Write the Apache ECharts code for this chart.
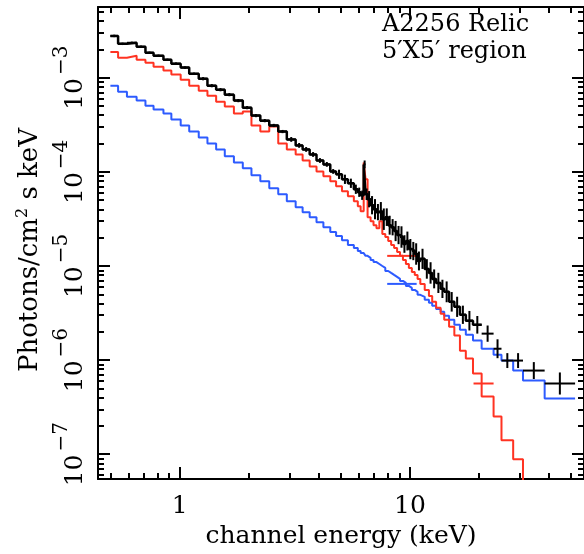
<!DOCTYPE html>
<html><head><meta charset="utf-8">
<script src="https://cdn.jsdelivr.net/npm/echarts@6/dist/echarts.min.js"></script>
<style>html,body{margin:0;padding:0;background:#fff}#c{width:584px;height:554px}</style>
</head><body><div id="c"></div>
<script>
// channel energy bin edges (keV)
const binEdges = [0.50, 0.54, 0.59, 0.65, 0.71, 0.77, 0.85, 0.92, 1.01, 1.10, 1.21, 1.32, 1.44, 1.57, 1.72, 1.88, 2.05, 2.24, 2.45, 2.68, 2.92, 3.19, 3.42, 3.67, 3.93, 4.21, 4.51, 4.78, 5.07, 5.38, 5.71, 5.94, 6.11, 6.30, 6.42, 6.55, 6.75, 6.95, 7.16, 7.37, 7.59, 7.82, 8.05, 8.29, 8.54, 8.80, 9.06, 9.33, 9.61, 9.90, 10.2, 10.5, 10.8, 11.1, 11.6, 12.1, 12.5, 13.0, 13.6, 14.1, 14.8, 15.6, 16.5, 17.5, 18.8, 20.5, 23.1, 25.0, 28.1, 31.0, 38.5, 52.2];
// observed spectrum (photons/cm^2/s/keV)
const dataFlux = [2.78e-3, 2.29e-3, 2.35e-3, 2.13e-3, 1.84e-3, 1.71e-3, 1.55e-3, 1.41e-3, 1.28e-3, 1.10e-3,
  9.76e-4, 8.23e-4, 7.46e-4, 6.61e-4, 5.71e-4, 4.81e-4, 3.96e-4, 3.50e-4, 3.11e-4, 2.68e-4,
  2.21e-4, 1.91e-4, 1.73e-4, 1.53e-4, 1.32e-4, 1.20e-4, 1.01e-4, 9.41e-5, 8.33e-5, 7.56e-5,
  6.53e-5, 6.07e-5, 5.64e-5, 1.20e-4, 5.78e-5, 5.12e-5, 4.42e-5, 4.01e-5, 3.73e-5, 3.82e-5,
  3.14e-5, 3.30e-5, 2.71e-5, 2.58e-5, 2.35e-5, 2.13e-5, 2.03e-5, 1.71e-5, 1.84e-5, 1.51e-5,
  1.44e-5, 1.34e-5, 1.13e-5, 1.19e-5, 9.30e-6, 8.43e-6, 7.29e-6, 6.61e-6, 5.71e-6, 5.31e-6,
  4.16e-6, 3.68e-6, 3.03e-6, 2.62e-6, 2.37e-6, 1.91e-6, 1.32e-6, 9.88e-7, 9.88e-7, 7.74e-7,
  5.64e-7];
// relative 1-sigma errors of the observed spectrum
const dataRelErr = [0.03, 0.03, 0.03, 0.03, 0.03, 0.03, 0.03, 0.03, 0.03, 0.03,
  0.04, 0.04, 0.04, 0.04, 0.04, 0.04, 0.04, 0.04, 0.04, 0.04,
  0.06, 0.06, 0.06, 0.06, 0.06, 0.06, 0.06, 0.12, 0.12, 0.12,
  0.12, 0.12, 0.12, 0.10, 0.15, 0.22, 0.25, 0.28, 0.22, 0.25,
  0.30, 0.24, 0.26, 0.22, 0.28, 0.25, 0.30, 0.24, 0.26, 0.28,
  0.25, 0.30, 0.26, 0.28, 0.27, 0.30, 0.26, 0.28, 0.25, 0.29,
  0.27, 0.28, 0.25, 0.27, 0.24, 0.22, 0.26, 0.20, 0.20, 0.23,
  0.31];
// thermal model (red)
const redModel = [1.88e-3, 1.63e-3, 1.71e-3, 1.55e-3, 1.44e-3, 1.31e-3, 1.19e-3, 1.08e-3, 9.53e-4, 8.23e-4,
  7.29e-4, 6.45e-4, 5.57e-4, 4.93e-4, 4.16e-4, 4.37e-4, 3.11e-4, 2.68e-4, 3.04e-4, 2.00e-4,
  1.73e-4, 1.53e-4, 1.32e-4, 1.14e-4, 1.01e-4, 8.96e-5, 7.93e-5, 7.02e-5, 6.22e-5, 5.50e-5,
  4.87e-5, 4.31e-5, 3.82e-5, 1.26e-4, 8.33e-5, 3.30e-5, 2.99e-5, 2.71e-5, 2.52e-5, 2.99e-5,
  2.18e-5, 2.03e-5, 1.84e-5, 1.67e-5, 1.55e-5, 1.41e-5, 1.28e-5, 1.16e-5, 1.05e-5, 9.53e-6,
  8.64e-6, 8.03e-6, 7.29e-6, 6.45e-6, 5.57e-6, 4.81e-6, 4.16e-6, 3.59e-6, 3.11e-6, 2.68e-6,
  2.26e-6, 1.82e-6, 1.26e-6, 1.04e-6, 7.20e-7, 4.11e-7, 2.52e-7, 1.41e-7, 8.85e-8, 2.1e-8,
  7.9e-9];
// power-law model (blue)
const blueModel = [8.23e-4, 7.11e-4, 6.29e-4, 5.71e-4, 5.05e-4, 4.59e-4, 4.16e-4, 3.59e-4, 3.11e-4, 2.68e-4,
  2.32e-4, 2.00e-4, 1.73e-4, 1.46e-4, 1.26e-4, 1.09e-4, 9.18e-5, 7.93e-5, 6.69e-5, 5.78e-5,
  4.87e-5, 4.21e-5, 3.73e-5, 3.30e-5, 2.92e-5, 2.58e-5, 2.29e-5, 2.08e-5, 1.88e-5, 1.67e-5,
  1.55e-5, 1.44e-5, 1.37e-5, 1.31e-5, 1.28e-5, 1.22e-5, 1.16e-5, 1.10e-5, 1.05e-5, 1.00e-5,
  9.53e-6, 8.85e-6, 8.43e-6, 8.03e-6, 7.65e-6, 7.29e-6, 6.94e-6, 6.61e-6, 6.14e-6, 5.85e-6,
  5.57e-6, 5.31e-6, 4.93e-6, 4.70e-6, 4.37e-6, 4.06e-6, 3.77e-6, 3.50e-6, 3.26e-6, 2.96e-6,
  2.68e-6, 2.37e-6, 2.10e-6, 1.86e-6, 1.61e-6, 1.32e-6, 1.14e-6, 9.88e-7, 7.74e-7, 6.07e-7,
  3.91e-7];
// wide-bin model segments
const redWideLo = [7.97, 18.9];
const redWideHi = [10.7, 23.1];
const redWideVal = [1.28e-5, 5.64e-7];
const blueWideLo = [7.97];
const blueWideHi = [10.7];
const blueWideVal = [6.45e-6];
// last bin index drawn as a connected histogram
const histEnd = 65;

// axes
const xMajorTicks = [1, 10];
const xTickLabels = ['1', '10'];
const xMinorTicks = [0.5, 0.6, 0.7, 0.8, 0.9, 2, 3, 4, 5, 6, 7, 8, 9, 20, 30, 40, 50];
const yMajorTicks = [1e-7, 1e-6, 1e-5, 1e-4, 1e-3];
const yTickExponents = ['\u22127', '\u22126', '\u22125', '\u22124', '\u22123'];
const yMinorTicks = [6e-8, 7e-8, 8e-8, 9e-8,
  2e-7, 3e-7, 4e-7, 5e-7, 6e-7, 7e-7, 8e-7, 9e-7,
  2e-6, 3e-6, 4e-6, 5e-6, 6e-6, 7e-6, 8e-6, 9e-6,
  2e-5, 3e-5, 4e-5, 5e-5, 6e-5, 7e-5, 8e-5, 9e-5,
  2e-4, 3e-4, 4e-4, 5e-4, 6e-4, 7e-4, 8e-4, 9e-4,
  2e-3, 3e-3, 4e-3, 5e-3];
const xRange = [0.4417, 57.07];
const yRange = [5.44e-8, 5.64e-3];
const xTitle = 'channel energy (keV)';
const yTitleParts = ['Photons/cm', '2', ' s keV'];
const titleLines = ['A2256 Relic', '5\u2032X5\u2032 region'];

const FONT = '"DejaVu Serif"';
const RED = '#ff3322', BLUE = '#2d5bff', BLACK = '#000';

function histPoints(vals, n) {
  const pts = [];
  for (let i = 0; i < n; i++) pts.push([binEdges[i], vals[i]]);
  pts.push([binEdges[n], vals[n - 1]]);
  return pts;
}
function nearestIdx(arr, v) {
  let best = 0;
  for (let i = 1; i < arr.length; i++) if (Math.abs(Math.log(arr[i] / v)) < Math.abs(Math.log(arr[best] / v))) best = i;
  return best;
}
const crossData = dataFlux.map((f, i) => [binEdges[i], binEdges[i + 1], f, dataRelErr[i]]);
const redWideData = redWideVal.map((v, i) => [redWideLo[i], redWideHi[i], v, 0]);
const blueWideData = blueWideVal.map((v, i) => [blueWideLo[i], blueWideHi[i], v, 0]);

function crossRenderer(color, w) {
  return function (params, api) {
    const lo = api.value(0), hi = api.value(1), f = api.value(2), r = api.value(3);
    const c = Math.sqrt(lo * hi);
    const a = api.coord([lo, f]), b = api.coord([hi, f]);
    const children = [{ type: 'line', shape: { x1: a[0], y1: a[1], x2: b[0], y2: b[1] }, style: { stroke: color, lineWidth: w } }];
    if (r > 0) {
      const t = api.coord([c, f * (1 + r)]), u = api.coord([c, f / (1 + r)]);
      children.push({ type: 'line', shape: { x1: t[0], y1: t[1], x2: u[0], y2: u[1] }, style: { stroke: color, lineWidth: w } });
    }
    return { type: 'group', children };
  };
}

const axisLineStyle = { color: BLACK, width: 2 };
function xAxisDef(pos, major, showLine) {
  return {
    type: 'log', logBase: 10, position: pos, min: xRange[0], max: xRange[1],
    axisLine: { show: showLine, lineStyle: axisLineStyle },
    axisTick: { show: true, inside: true, length: major ? 12 : 6, customValues: major ? xMajorTicks : xMinorTicks, lineStyle: { color: BLACK, width: 2 } },
    axisLabel: { show: false }, splitLine: { show: false }, minorTick: { show: false }
  };
}
function yAxisDef(pos, major, showLine) {
  return {
    type: 'log', logBase: 10, position: pos, min: yRange[0], max: yRange[1],
    axisLine: { show: showLine, lineStyle: axisLineStyle },
    axisTick: { show: true, inside: true, length: major ? 12 : 6, customValues: major ? yMajorTicks : yMinorTicks, lineStyle: { color: BLACK, width: 2 } },
    axisLabel: { show: false }, splitLine: { show: false }, minorTick: { show: false }
  };
}
const xAxes = [xAxisDef('bottom', true, true), xAxisDef('bottom', false, false), xAxisDef('top', true, true), xAxisDef('top', false, false)];
const yAxes = [yAxisDef('left', true, true), yAxisDef('left', false, false), yAxisDef('right', true, true), yAxisDef('right', false, false)];
Object.assign(xAxes[0], {
  name: xTitle, nameLocation: 'middle', nameGap: 40,
  nameTextStyle: { fontFamily: FONT, fontSize: 25, color: BLACK }
});
xAxes[0].axisLabel = {
  show: true, customValues: xMajorTicks, margin: 15, fontFamily: FONT, fontSize: 25, color: BLACK,
  formatter: v => xTickLabels[nearestIdx(xMajorTicks, v)]
};
Object.assign(yAxes[0], {
  name: '{a|' + yTitleParts[0] + '}{s|' + yTitleParts[1] + '}{a|' + yTitleParts[2] + '}',
  nameLocation: 'middle', nameGap: 55,
  nameTextStyle: {
    fontFamily: FONT, fontSize: 25, color: BLACK, padding: [0, 14, 0, 0],
    rich: {
      a: { fontFamily: FONT, fontSize: 26, color: BLACK, lineHeight: 28, verticalAlign: 'bottom' },
      s: { fontFamily: FONT, fontSize: 16, color: BLACK, lineHeight: 16, verticalAlign: 'top' }
    }
  }
});
yAxes[0].axisLabel = {
  show: true, customValues: yMajorTicks, rotate: 90, margin: 10, color: BLACK,
  formatter: v => '{b|10}{s|' + yTickExponents[nearestIdx(yMajorTicks, v)] + '}',
  rich: {
    b: { fontFamily: FONT, fontSize: 25, color: BLACK, lineHeight: 36, verticalAlign: 'bottom' },
    s: { fontFamily: FONT, fontSize: 20, color: BLACK, lineHeight: 20, verticalAlign: 'top', padding: [0, 0, 0, 3] }
  }
};

const chart = echarts.init(document.getElementById('c'), null, { renderer: 'canvas' });
chart.setOption({
  animation: false,
  backgroundColor: '#fff',
  grid: { left: 98, right: -8, top: 7, bottom: 73, containLabel: false },
  xAxis: xAxes,
  yAxis: yAxes,
  graphic: [
    { type: 'text', left: 382, top: 13, style: { text: titleLines[0], font: '24px ' + FONT, fill: BLACK } },
    { type: 'text', left: 382, top: 40, style: { text: titleLines[1], font: '24px ' + FONT, fill: BLACK } }
  ],
  series: [
    { type: 'line', name: 'power law', xAxisIndex: 0, yAxisIndex: 0, data: histPoints(blueModel, blueModel.length), step: 'end', showSymbol: false, lineStyle: { color: BLUE, width: 2 }, clip: true, z: 2 },
    { type: 'custom', name: 'power law wide', xAxisIndex: 0, yAxisIndex: 0, data: blueWideData, renderItem: crossRenderer(BLUE, 2), encode: { x: [0, 1], y: 2 }, z: 2 },
    { type: 'line', name: 'thermal', xAxisIndex: 0, yAxisIndex: 0, data: histPoints(redModel, redModel.length), step: 'end', showSymbol: false, lineStyle: { color: RED, width: 2 }, clip: true, z: 3 },
    { type: 'custom', name: 'thermal wide', xAxisIndex: 0, yAxisIndex: 0, data: redWideData, renderItem: crossRenderer(RED, 2), encode: { x: [0, 1], y: 2 }, z: 3 },
    { type: 'line', name: 'data hist', xAxisIndex: 0, yAxisIndex: 0, data: histPoints(dataFlux, histEnd), step: 'end', showSymbol: false, lineStyle: { color: BLACK, width: 2.5 }, clip: true, z: 4 },
    { type: 'custom', name: 'data', xAxisIndex: 0, yAxisIndex: 0, data: crossData, renderItem: crossRenderer(BLACK, 2), encode: { x: [0, 1], y: 2 }, z: 4 }
  ]
});
</script></body></html>
